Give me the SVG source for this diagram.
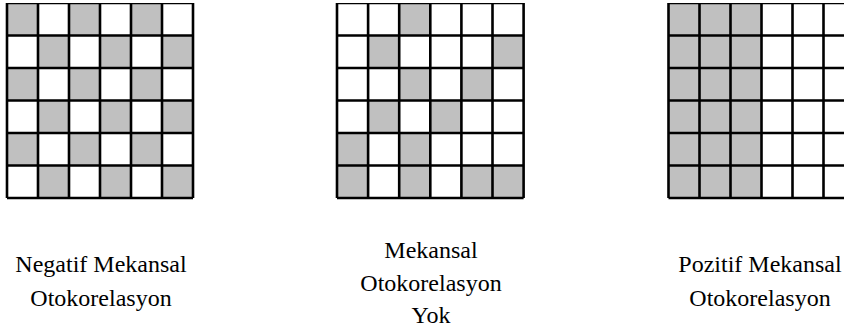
<svg xmlns="http://www.w3.org/2000/svg" width="844" height="329" viewBox="0 0 844 329">
<style>
.bg{fill:#ffffff}
.g{fill:#c0c0c0}
.ln{fill:none;stroke:#000000;stroke-width:2.6}
</style>
<defs>
<clipPath id="clipTop"><rect x="0" y="3" width="844" height="326"/></clipPath>
</defs>
<rect x="0" y="0" width="844" height="329" class="bg"/>
<g clip-path="url(#clipTop)">
<g id="grid-negative" transform="translate(7,3)">
<rect x="0" y="0" width="186" height="195" class="bg"/>
<rect class="g" x="0" y="0" width="31" height="32.5"/><rect class="g" x="62" y="0" width="31" height="32.5"/><rect class="g" x="124" y="0" width="31" height="32.5"/>
<rect class="g" x="31" y="32.5" width="31" height="32.5"/><rect class="g" x="93" y="32.5" width="31" height="32.5"/><rect class="g" x="155" y="32.5" width="31" height="32.5"/>
<rect class="g" x="0" y="65" width="31" height="32.5"/><rect class="g" x="62" y="65" width="31" height="32.5"/><rect class="g" x="124" y="65" width="31" height="32.5"/>
<rect class="g" x="31" y="97.5" width="31" height="32.5"/><rect class="g" x="93" y="97.5" width="31" height="32.5"/><rect class="g" x="155" y="97.5" width="31" height="32.5"/>
<rect class="g" x="0" y="130" width="31" height="32.5"/><rect class="g" x="62" y="130" width="31" height="32.5"/><rect class="g" x="124" y="130" width="31" height="32.5"/>
<rect class="g" x="31" y="162.5" width="31" height="32.5"/><rect class="g" x="93" y="162.5" width="31" height="32.5"/><rect class="g" x="155" y="162.5" width="31" height="32.5"/>
<path class="ln" d="M0 0V195M31 0V195M62 0V195M93 0V195M124 0V195M155 0V195M186 0V195M0 0H186M0 32.5H186M0 65H186M0 97.5H186M0 130H186M0 162.5H186M0 195H186"/>
</g>
<g id="grid-none" transform="translate(337,3)">
<rect x="0" y="0" width="186.6" height="195" class="bg"/>
<rect class="g" x="62.2" y="0" width="31.1" height="32.5"/>
<rect class="g" x="31.1" y="32.5" width="31.1" height="32.5"/><rect class="g" x="155.5" y="32.5" width="31.1" height="32.5"/>
<rect class="g" x="62.2" y="65" width="31.1" height="32.5"/><rect class="g" x="124.4" y="65" width="31.1" height="32.5"/>
<rect class="g" x="31.1" y="97.5" width="31.1" height="32.5"/><rect class="g" x="93.3" y="97.5" width="31.1" height="32.5"/>
<rect class="g" x="0" y="130" width="31.1" height="32.5"/><rect class="g" x="62.2" y="130" width="31.1" height="32.5"/>
<rect class="g" x="0" y="162.5" width="31.1" height="32.5"/><rect class="g" x="62.2" y="162.5" width="31.1" height="32.5"/><rect class="g" x="124.4" y="162.5" width="62.2" height="32.5"/>
<path class="ln" d="M0 0V195M31.1 0V195M62.2 0V195M93.3 0V195M124.4 0V195M155.5 0V195M186.6 0V195M0 0H186.6M0 32.5H186.6M0 65H186.6M0 97.5H186.6M0 130H186.6M0 162.5H186.6M0 195H186.6"/>
</g>
<g id="grid-positive" transform="translate(668.5,3)">
<rect x="0" y="0" width="186" height="195" class="bg"/>
<rect class="g" x="0" y="0" width="93" height="195"/>
<path class="ln" d="M0 0V195M31 0V195M62 0V195M93 0V195M124 0V195M155 0V195M186 0V195M0 0H186M0 32.5H186M0 65H186M0 97.5H186M0 130H186M0 162.5H186M0 195H186"/>
</g>
</g>
<g font-family="Liberation Serif, Times New Roman, serif" font-size="24" fill="#000000" text-anchor="middle">
<g id="label-negative">
<text x="101" y="272">Negatif Mekansal</text>
<text x="101" y="306">Otokorelasyon</text>
</g>
<g id="label-none">
<text x="431" y="258">Mekansal</text>
<text x="431" y="291">Otokorelasyon</text>
<text x="431" y="323">Yok</text>
</g>
<g id="label-positive">
<text x="760" y="272">Pozitif Mekansal</text>
<text x="760" y="306">Otokorelasyon</text>
</g>
</g>
<g id="connectors"/>
</svg>
